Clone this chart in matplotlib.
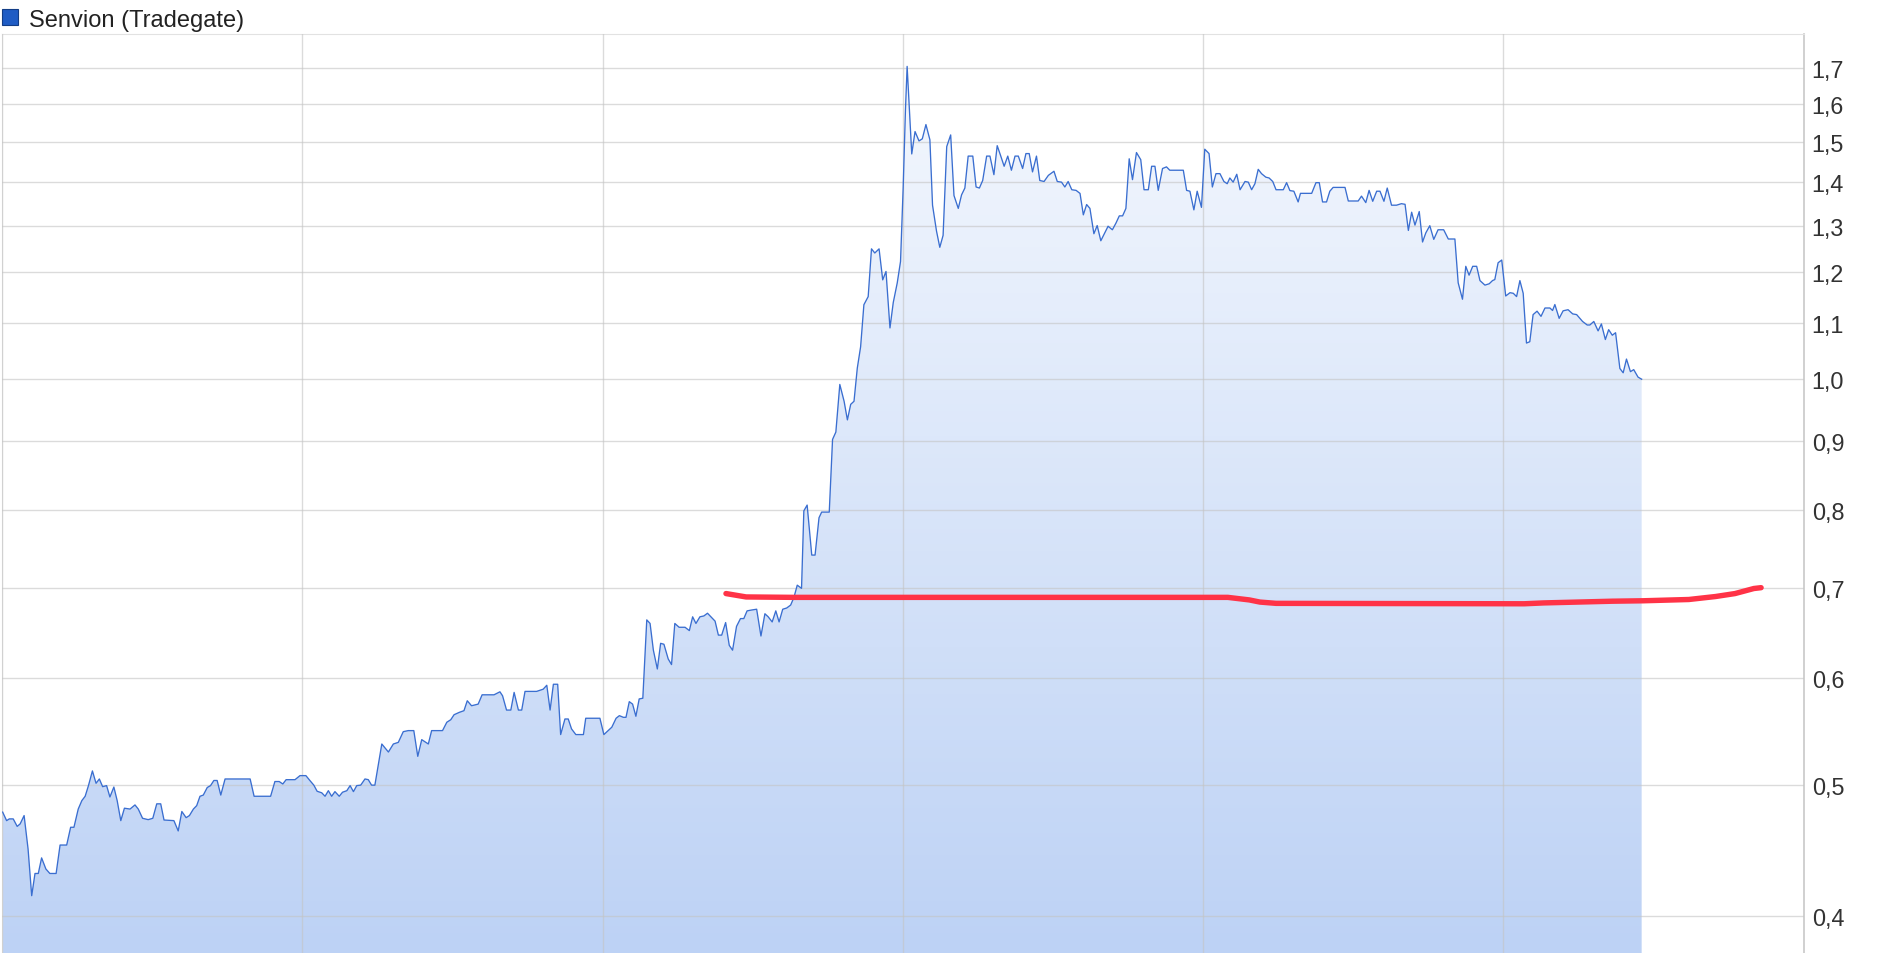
import matplotlib
matplotlib.use("Agg")
import matplotlib.pyplot as plt
import numpy as np
from matplotlib.patches import Polygon, Rectangle
from matplotlib.ticker import FixedLocator, FuncFormatter, NullLocator
from matplotlib.colors import LinearSegmentedColormap

plt.rcParams['font.family'] = ['Liberation Sans', 'DejaVu Sans']

# ---------------- data ----------------
series_name = "Senvion (Tradegate)"

# trading-day index of each observation
days = [
    0.2, 1.4, 2.2, 3.4, 4.6, 5.5, 6.7, 7.9, 9.0, 10.0, 11.0, 12.0, 13.3, 14.5, 16.4, 17.6, 19.6, 20.8, 21.8, 23.1,
    24.2, 25.2, 26.2, 27.4, 28.5, 29.5, 30.5, 31.7, 32.7, 33.9, 34.9, 36.0, 37.1, 38.8, 40.3, 41.3, 42.6, 44.3, 45.7, 46.9,
    48.1, 49.1, 52.1, 53.4, 54.5, 55.8, 56.8, 58.0, 59.0, 60.0, 61.0, 62.2, 63.2, 64.2, 65.2, 66.3, 67.6, 75.2, 76.4, 81.4,
    82.7, 84.0, 85.1, 86.1, 88.8, 90.3, 92.1, 93.3, 94.5, 95.5, 96.9, 97.9, 98.9, 99.9, 100.9, 102.2, 103.2, 104.5, 105.5, 106.5,
    107.5, 108.7, 110.0, 111.0, 112.0, 113.0, 115.1, 117.1, 118.6, 120.1, 121.6, 123.1, 124.8, 126.0, 127.2, 129.2, 130.2, 133.5, 134.8, 136.0,
    137.0, 138.6, 140.0, 141.0, 142.3, 144.3, 145.5, 149.1, 150.9, 151.7, 152.9, 154.2, 155.2, 156.5, 157.5, 158.5, 162.0, 164.0, 165.1, 166.1,
    167.1, 168.4, 169.3, 170.6, 171.6, 172.6, 173.9, 176.2, 176.9, 181.2, 182.4, 183.7, 184.8, 186.1, 187.1, 188.3, 189.1, 190.1, 191.1, 192.1,
    193.1, 194.2, 195.4, 196.4, 197.4, 198.6, 199.6, 200.6, 201.9, 202.9, 203.9, 205.2, 207.0, 208.3, 209.3, 210.3, 211.5, 212.7, 213.8, 215.1,
    216.1, 217.1, 218.1, 219.3, 220.4, 221.4, 222.6, 223.8, 224.8, 225.8, 227.2, 228.7, 230.0, 231.2, 232.2, 233.4, 234.5, 235.5, 236.6, 237.8,
    239.0, 240.0, 241.0, 242.3, 243.0, 244.0, 245.4, 246.4, 247.6, 248.4, 249.7, 250.7, 251.7, 252.7, 253.9, 255.2, 256.2, 257.2, 258.2, 259.2,
    260.2, 261.2, 262.5, 263.5, 264.5, 265.8, 266.9, 267.9, 269.1, 270.1, 271.3, 272.3, 273.1, 273.8, 274.3, 275.7, 276.7, 277.9, 278.9, 280.0,
    281.2, 282.0, 283.2, 284.2, 285.2, 286.3, 287.5, 288.5, 289.8, 290.8, 291.8, 292.8, 294.2, 295.2, 296.2, 297.2, 298.4, 299.4, 300.6, 301.6,
    302.6, 303.7, 304.8, 305.9, 307.0, 308.0, 309.3, 310.3, 311.3, 312.3, 313.5, 314.5, 315.8, 317.1, 318.8, 319.8, 321.1, 322.1, 323.1, 324.2,
    325.5, 326.7, 327.7, 328.7, 329.7, 330.9, 331.9, 333.0, 334.2, 335.2, 336.5, 337.6, 338.6, 339.6, 340.6, 341.6, 342.6, 343.8, 345.1, 346.1,
    347.4, 348.4, 349.4, 350.4, 351.7, 352.9, 353.9, 358.0, 359.0, 360.0, 361.2, 362.2, 363.5, 364.5, 365.8, 366.8, 367.9, 369.1, 370.3, 371.3,
    372.1, 373.1, 374.2, 375.2, 376.7, 377.7, 378.7, 379.7, 380.7, 381.7, 383.0, 384.0, 385.1, 386.1, 388.3, 389.3, 390.3, 391.5, 392.8, 393.5,
    396.9, 398.2, 399.2, 400.2, 401.4, 402.4, 403.4, 407.0, 408.0, 411.0, 412.0, 413.3, 414.3, 415.4, 416.6, 417.6, 418.8, 419.8, 421.1, 422.6,
    424.1, 425.2, 426.2, 427.2, 428.2, 429.5, 430.5, 431.5, 432.7, 433.9, 435.2, 436.9, 438.3, 440.3, 441.3, 442.6, 443.6, 444.6, 445.7, 446.9,
    447.9, 449.4, 450.7, 451.7, 452.4, 453.4, 454.5, 455.7, 457.0, 458.0, 459.0, 460.0, 461.0, 462.0, 463.0, 464.0, 465.2, 466.4, 467.6, 469.1,
    469.9, 470.6, 471.9, 473.1, 474.6, 476.0, 477.2, 479.0, 480.4, 481.2, 482.4, 483.7, 484.7, 485.9, 486.9, 488.0, 489.0, 490.3, 491.3, 492.3,
    493.5, 494.5, 495.8, 496.9,
]

prices = [
    0.4775, 0.4706, 0.472, 0.472, 0.466, 0.468, 0.4747, 0.4484, 0.414, 0.430, 0.430, 0.4416, 0.4333, 0.430, 0.430, 0.4514, 0.4514, 0.4653, 0.4653, 0.480,
    0.487, 0.4906, 0.4996, 0.5123, 0.5016, 0.5053, 0.4987, 0.4996, 0.490, 0.4984, 0.487, 0.4706, 0.4807, 0.480, 0.4834, 0.480, 0.4725, 0.4714, 0.4725, 0.4843,
    0.4843, 0.4711, 0.4706, 0.4624, 0.478, 0.473, 0.4747, 0.480, 0.4828, 0.4906, 0.4916, 0.498, 0.4996, 0.504, 0.504, 0.4916, 0.5053, 0.5053, 0.4906, 0.4906,
    0.5031, 0.5031, 0.501, 0.5047, 0.5047, 0.5082, 0.5082, 0.504, 0.500, 0.4948, 0.4935, 0.4906, 0.4953, 0.4906, 0.4945, 0.4906, 0.494, 0.4953, 0.4996, 0.4945,
    0.4996, 0.500, 0.5053, 0.5047, 0.500, 0.500, 0.5364, 0.5291, 0.5364, 0.5379, 0.5478, 0.5488, 0.5488, 0.5252, 0.5404, 0.5364, 0.5488, 0.5488, 0.5567, 0.5591,
    0.5639, 0.5662, 0.5678, 0.5775, 0.5726, 0.5742, 0.5834, 0.5834, 0.5864, 0.5824, 0.5684, 0.5684, 0.5858, 0.5684, 0.5684, 0.5868, 0.5868, 0.589, 0.593, 0.5684,
    0.594, 0.594, 0.5451, 0.5598, 0.5598, 0.5504, 0.5451, 0.5451, 0.5605, 0.5605, 0.5451, 0.5488, 0.552, 0.5605, 0.563, 0.5614, 0.5614, 0.5766, 0.5742, 0.5624,
    0.5793, 0.580, 0.663, 0.659, 0.6296, 0.6097, 0.637, 0.636, 0.6202, 0.6143, 0.659, 0.6547, 0.6547, 0.651, 0.6665, 0.659, 0.6665, 0.6675, 0.6706, 0.6656,
    0.6616, 0.646, 0.646, 0.660, 0.6348, 0.6296, 0.6557, 0.6645, 0.6645, 0.6733, 0.6743, 0.6752, 0.645, 0.670, 0.6665, 0.6607, 0.6733, 0.6607, 0.6752, 0.6766,
    0.680, 0.689, 0.7035, 0.6997, 0.7987, 0.8066, 0.7406, 0.7406, 0.7894, 0.797, 0.797, 0.797, 0.9023, 0.9137, 0.9911, 0.963, 0.9329, 0.958, 0.963, 1.0192,
    1.0567, 1.1357, 1.1515, 1.2493, 1.2405, 1.2493, 1.1849, 1.202, 1.0915, 1.14, 1.1786, 1.2226, 1.3867, 1.585, 1.706, 1.4691, 1.5263, 1.5021, 1.5075, 1.5447,
    1.505, 1.346, 1.288, 1.2526, 1.2784, 1.4876, 1.5176, 1.3684, 1.3386, 1.37, 1.386, 1.4637, 1.4637, 1.3885, 1.386, 1.404, 1.4637, 1.4637, 1.418, 1.490,
    1.4657, 1.4385, 1.4637, 1.4288, 1.4637, 1.4637, 1.433, 1.470, 1.470, 1.4247, 1.4637, 1.404, 1.4016, 1.4163, 1.4263, 1.4016, 1.4, 1.3885, 1.4016, 1.382,
    1.3805, 1.3733, 1.324, 1.3475, 1.3386, 1.282, 1.3, 1.2667, 1.284, 1.2985, 1.2907, 1.3057, 1.3217, 1.3217, 1.3386, 1.457, 1.406, 1.4726, 1.4548, 1.382,
    1.382, 1.4385, 1.4385, 1.3805, 1.433, 1.437, 1.4288, 1.4288, 1.3805, 1.3785, 1.3353, 1.3785, 1.341, 1.481, 1.470, 1.3885, 1.4205, 1.4205, 1.4016, 1.3963,
    1.41, 1.4, 1.419, 1.382, 1.4016, 1.4, 1.382, 1.3963, 1.431, 1.4205, 1.412, 1.41, 1.4016, 1.382, 1.382, 1.3988, 1.38, 1.3785, 1.3535, 1.3735,
    1.3735, 1.3988, 1.3988, 1.3535, 1.3535, 1.3785, 1.3875, 1.3875, 1.3557, 1.3557, 1.367, 1.352, 1.3805, 1.355, 1.3785, 1.3785, 1.355, 1.386, 1.346, 1.346,
    1.3495, 1.348, 1.2892, 1.330, 1.301, 1.3315, 1.264, 1.284, 1.2997, 1.2697, 1.2907, 1.2907, 1.2705, 1.2705, 1.1789, 1.1463, 1.2126, 1.1944, 1.2126, 1.2126,
    1.1834, 1.1743, 1.177, 1.1834, 1.1855, 1.220, 1.2257, 1.1527, 1.1592, 1.158, 1.1515, 1.1834, 1.158, 1.0637, 1.0661, 1.1166, 1.1232, 1.1133, 1.1293, 1.1293,
    1.1245, 1.136, 1.1095, 1.1239, 1.126, 1.118, 1.1166, 1.1036, 1.097, 1.097, 1.1036, 1.086, 1.099, 1.0701, 1.0883, 1.078, 1.0826, 1.0185, 1.011, 1.035,
    1.013, 1.0165, 1.0036, 1.0,
]

# hand-drawn red support line
trend_days = [219.4, 225.5, 240.0, 371.5, 378.0, 381.2, 386.1, 461.3, 467.2, 488.0, 497.3, 511.2, 519.3, 525.2, 530.9, 533.1]
trend_vals = [0.6935, 0.6895, 0.689, 0.689, 0.686, 0.6835, 0.682, 0.6815, 0.6825, 0.6845, 0.685, 0.6865, 0.690, 0.6935, 0.6995, 0.7005]

y_ticks = [0.4, 0.5, 0.6, 0.7, 0.8, 0.9, 1.0, 1.1, 1.2, 1.3, 1.4, 1.5, 1.6, 1.7]
x_grid = [0, 91, 182, 273, 364, 455]

# ---------------- figure ----------------
W, H = 1879, 954
fig = plt.figure(figsize=(W / 100, H / 100), dpi=100)
ax = fig.add_axes([2 / W, 0, 1802 / W, 919 / H])
ax.set_yscale('log')
ax.set_xlim(0, 546.1)
ax.set_ylim(0.3754, 1.803)
ax.set_autoscale_on(False)

# gradient area fill
cmap = LinearSegmentedColormap.from_list('g', ['#f6f9fe', '#bdd2f5'])
grad = np.linspace(0, 1, 256).reshape(-1, 1)
im = ax.imshow(grad, cmap=cmap, extent=[0, 1, 0, 1], transform=ax.transAxes,
               aspect='auto', origin='upper', zorder=1, interpolation='bilinear')
verts = [(days[0], 0.3)] + list(zip(days, prices)) + [(days[-1], 0.3)]
clip = Polygon(verts, closed=True, facecolor='none', edgecolor='none', transform=ax.transData)
ax.add_patch(clip)
im.set_clip_path(clip)
ax.set_xlim(0, 546.1)
ax.set_ylim(0.3754, 1.803)

# price line
ax.plot(days, prices, color='#3a6ed0', lw=0.95, zorder=4, solid_joinstyle='round')
# red line
ax.plot(trend_days, trend_vals, color='#ff3347', lw=3.9, zorder=5,
        solid_capstyle='round', solid_joinstyle='round')

# grid / ticks
ax.set_axisbelow(False)
ax.xaxis.set_major_locator(FixedLocator(x_grid))
ax.xaxis.set_minor_locator(NullLocator())
ax.tick_params(axis='x', length=0, labelbottom=False)
ax.yaxis.set_major_locator(FixedLocator(y_ticks))
ax.yaxis.set_minor_locator(NullLocator())
ax.yaxis.set_major_formatter(FuncFormatter(lambda v, p: f"{v:.1f}".replace('.', ',')))
ax.yaxis.tick_right()
ax.tick_params(axis='y', length=0, pad=5.5, labelsize=16.8, labelcolor='#333333')
ax.grid(True, which='major', color='#c4c4c4', alpha=0.6, lw=1.0)

ax.spines['bottom'].set_visible(False)
ax.spines['top'].set_color('#e2e2e2')
ax.spines['left'].set_color('#e6e6e6')
ax.spines['right'].set_color('#c8c8c8')
ax.spines['right'].set_linewidth(1.2)

# legend
fig.patches.append(Rectangle((2 / W, 1 - 26 / H), 16 / W, 16 / H, transform=fig.transFigure,
                             facecolor='#1f5cc4', edgecolor='#123d86', lw=0.8))
fig.text(29 / W, 1 - 26.5 / H, series_name, fontsize=17.0, color='#222222', va='baseline')

fig.savefig('out.png', dpi=100)
